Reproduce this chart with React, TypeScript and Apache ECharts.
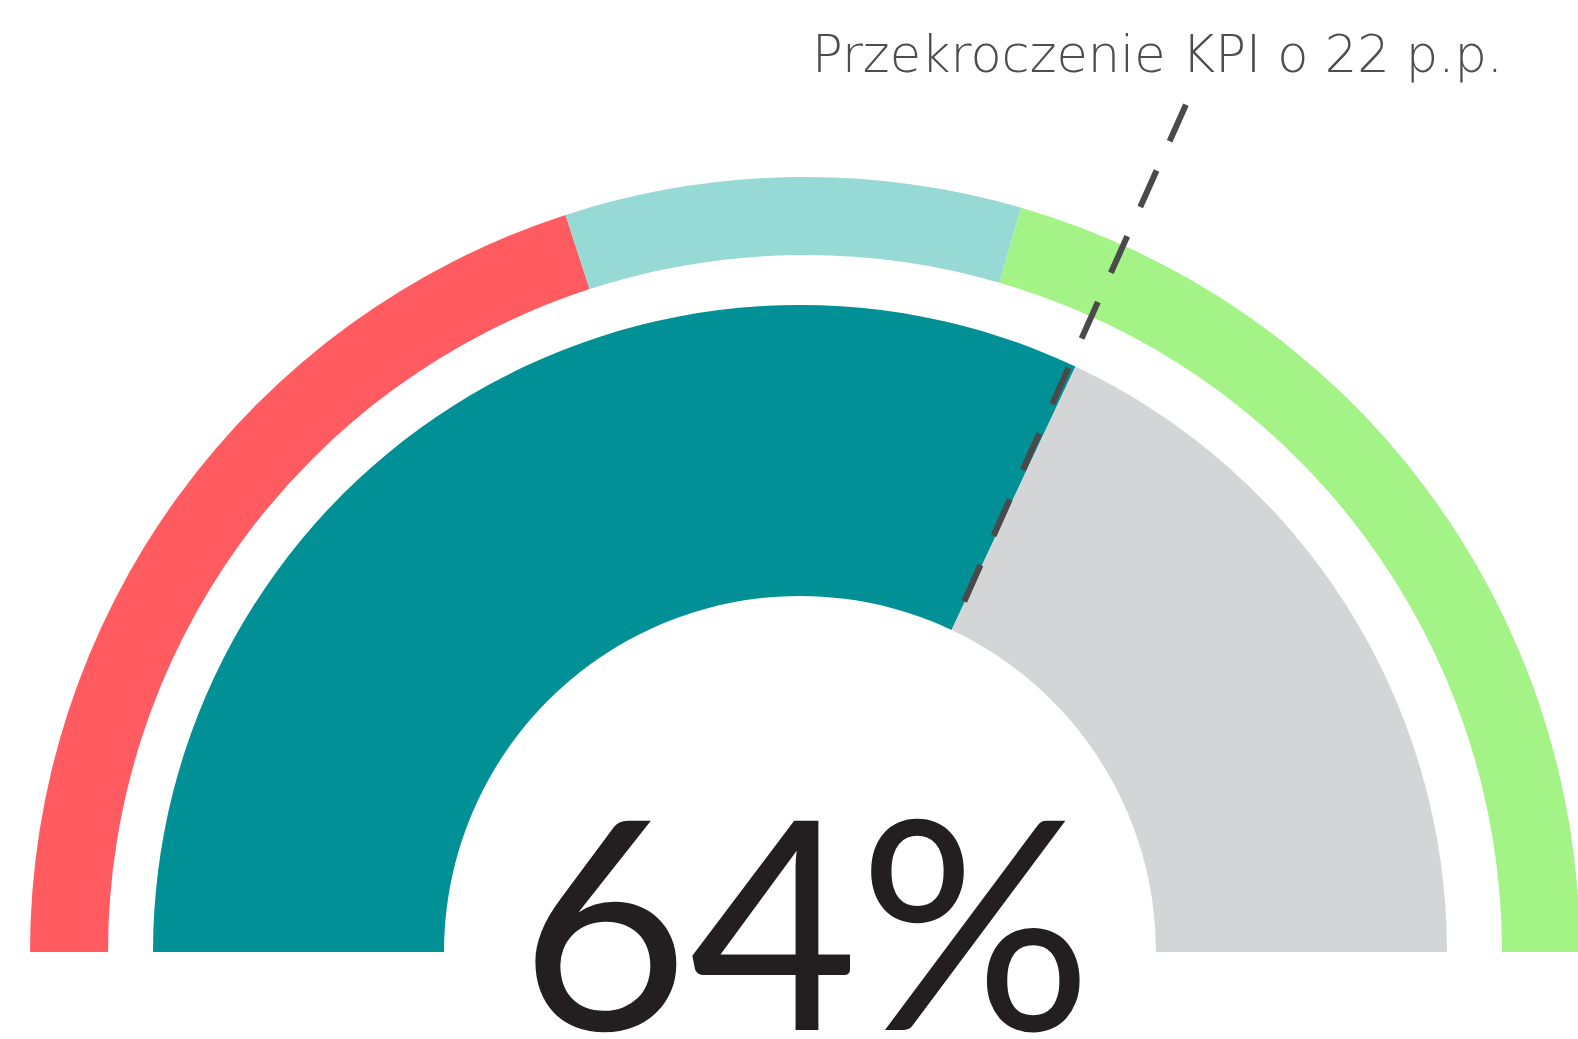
import React, { useEffect, useRef } from "react";
import * as echarts from "echarts";

// ---- data ----
const kpiBands = ["Poniżej KPI", "Strefa KPI", "Powyżej KPI"];
const kpiBandValues = [40, 19, 41];
const kpiBandColors = ["#FF5B61", "#97DAD5", "#A4F386"];

const resultCategories = ["Wynik", "Pozostało"];
const resultValues = [64, 36];
const resultColors = ["#019095", "#D4D5D7"];

const annotationText = "Przekroczenie KPI o 22 p.p.";
const valueLabel = "64%";

// ---- layout ----
const W = 1578;
const H = 1039;
const outerCenter = [805, 952];
const outerRadius = [697, 775];
const innerCenter = [800, 952];
const innerRadius = [356, 647];
const leaderLength = 575;
const leaderTiltDeg = 1.15;

function halfPie(name: string, center: number[], radius: number[], names: string[], values: number[], colors: string[], z: number) {
  const total = values.reduce((a, b) => a + b, 0);
  return {
    type: "pie",
    name,
    center,
    radius,
    startAngle: 180,
    clockwise: true,
    silent: true,
    z,
    label: { show: false },
    labelLine: { show: false },
    emphasis: { disabled: true },
    itemStyle: { borderWidth: 0 },
    data: [
      ...names.map((n, i) => ({ name: n, value: values[i], itemStyle: { color: colors[i] } })),
      { name: "", value: total, itemStyle: { color: "rgba(0,0,0,0)" } },
    ],
  };
}

export default function App() {
  const ref = useRef<HTMLDivElement>(null);
  useEffect(() => {
    document.body.style.margin = "0";
    if (!ref.current) return;
    const chart = echarts.init(ref.current, undefined, { renderer: "svg" });

    const total = resultValues.reduce((a, b) => a + b, 0);
    const pct = resultValues[0] / total;
    const a0 = Math.PI * (1 - pct);
    const sx = innerCenter[0] + innerRadius[0] * Math.cos(a0);
    const sy = innerCenter[1] - innerRadius[0] * Math.sin(a0);
    const a1 = a0 + (leaderTiltDeg * Math.PI) / 180;
    const ex = sx + leaderLength * Math.cos(a1);
    const ey = sy - leaderLength * Math.sin(a1);

    chart.setOption({
      animation: false,
      backgroundColor: "#ffffff",
      series: [
        halfPie("KPI", outerCenter, outerRadius, kpiBands, kpiBandValues, kpiBandColors, 1),
        halfPie("Wynik", innerCenter, innerRadius, resultCategories, resultValues, resultColors, 2),
      ],
      graphic: [
        {
          type: "line",
          z: 10,
          shape: { x1: ex, y1: ey, x2: sx, y2: sy },
          style: { stroke: "#4A4A4A", lineWidth: 6, lineDash: [40, 32], lineCap: "butt" },
        },
        {
          type: "text",
          z: 10,
          x: 1503,
          y: 54,
          style: {
            text: annotationText,
            fill: "#4D4D4D",
            font: "200 51px 'DejaVu Sans'",
            textAlign: "right",
            textVerticalAlign: "middle",
          },
        },
        {
          type: "text",
          z: 10,
          x: 806,
          y: 917,
          style: {
            text: valueLabel,
            fill: "#231F20",
            font: "400 292px Lato",
            textAlign: "center",
            textVerticalAlign: "middle",
          },
        },
      ],
    });
    return () => chart.dispose();
  }, []);
  return <div ref={ref} style={{ width: W, height: H, position: "absolute", left: 0, top: 0 }} />;
}
